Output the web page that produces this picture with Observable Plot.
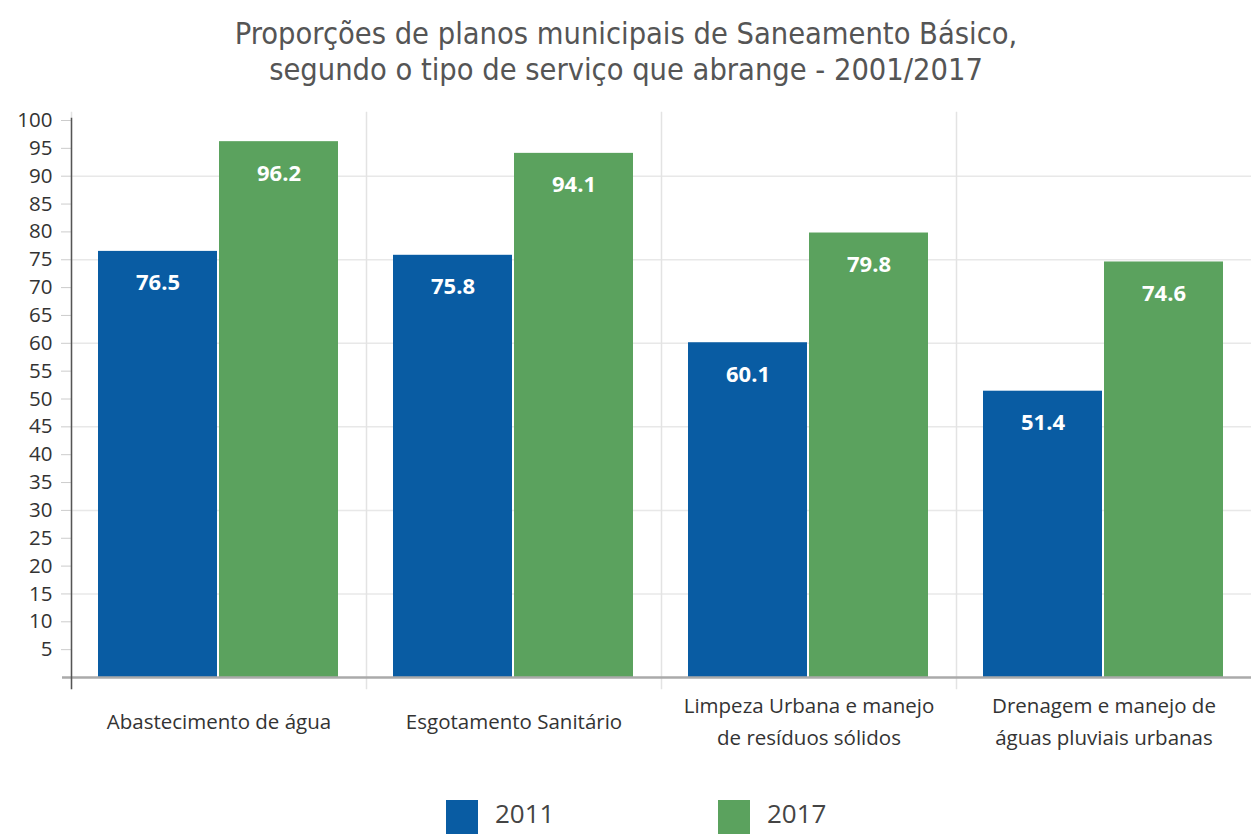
<!DOCTYPE html>
<html>
<head>
<meta charset="utf-8">
<script src="https://cdn.jsdelivr.net/npm/d3@7"></script>
<script src="https://cdn.jsdelivr.net/npm/@observablehq/plot@0.6"></script>
<style>
  body { margin: 0; background: #fff; font-family: "Open Sans", sans-serif; }
  #title { height: 95px; box-sizing: border-box; padding-top: 16px; text-align: center; color: #555; font-family: "DejaVu Sans Condensed", "DejaVu Sans", sans-serif; font-stretch: condensed; font-size: 30.5px; }
  #title div { height: 35.5px; line-height: 35.5px; white-space: nowrap; }
  #legend { height: 44px; position: relative; }
  .item { position: absolute; top: 10px; display: flex; align-items: flex-start; font-size: 26px; color: #444; }
  .sw { width: 32px; height: 36px; margin-right: 17px; }
  .item span { line-height: 30px; margin-top: -2px; }
</style>
</head>
<body>
<div id="title"><div>Proporções de planos municipais de Saneamento Básico,</div><div>segundo o tipo de serviço que abrange - 2001/2017</div></div>
<div id="chart"></div>
<div id="legend"></div>
<script>
const categories = ["Abastecimento de água", "Esgotamento Sanitário", "Limpeza Urbana e manejo de resíduos sólidos", "Drenagem e manejo de águas pluviais urbanas"];
const categoryLabels = ["Abastecimento de água", "Esgotamento Sanitário", "Limpeza Urbana e manejo\nde resíduos sólidos", "Drenagem e manejo de\náguas pluviais urbanas"];
const years = ["2011", "2017"];
const values2011 = [76.5, 75.8, 60.1, 51.4];
const values2017 = [96.2, 94.1, 79.8, 74.6];
const yTicks = [5, 10, 15, 20, 25, 30, 35, 40, 45, 50, 55, 60, 65, 70, 75, 80, 85, 90, 95, 100];
const gridValues = [15, 30, 45, 60, 75, 90];
const colors = ["#095ca3", "#5ba25e"];

const data = [];
categories.forEach((c, i) => {
  data.push({category: c, year: years[0], value: values2011[i]});
  data.push({category: c, year: years[1], value: values2017[i]});
});
const labelData = categories.map((c, i) => ({category: c, label: categoryLabels[i]}));

const chart = Plot.plot({
  width: 1252,
  height: 695,
  marginTop: 25,
  marginBottom: 113,
  marginLeft: 69,
  marginRight: 0,
  style: {fontFamily: "Open Sans, sans-serif", background: "#fff"},
  fx: {domain: categories, padding: 0, axis: null},
  x: {domain: years, paddingInner: 0.0165, paddingOuter: 0.2253, axis: null},
  y: {domain: [0, 100], axis: null},
  color: {domain: years, range: colors},
  marks: [
    Plot.ruleY(gridValues, {stroke: "#e8e8e8", strokeWidth: 1.5}),
    Plot.frame({anchor: "left", stroke: "#e3e3e3", strokeWidth: 1.5, insetTop: -8, insetBottom: -11}),
    Plot.barY(data, {fx: "category", x: "year", y: "value", fill: "year"}),
    Plot.text(data, {fx: "category", x: "year", y: "value", text: d => d.value.toFixed(1), dy: 32, fill: "#fff", fontWeight: "bold", fontSize: 22}),
    Plot.ruleY([0], {stroke: "#aaa", strokeWidth: 2.5}),
    Plot.axisY(yTicks, {tickSize: 10, tickFormat: () => "", stroke: "#ccc", label: null}),
    Plot.axisY([0], {tickSize: 9, tickFormat: () => "", stroke: "#aaa", strokeWidth: 2.5, label: null}),
    Plot.axisY(yTicks, {tickSize: 0, tickPadding: 19, fill: "#333", fontSize: 20.5, label: null}),
    Plot.frame({anchor: "left", facet: "super", stroke: "#555", strokeWidth: 1.5, insetTop: -2, insetBottom: -11}),
    Plot.text(labelData, {fx: "category", text: "label", frameAnchor: "bottom", dy: 41, lineAnchor: "middle", lineHeight: 1.55, fill: "#333", fontSize: 20.5})
  ]
});
document.getElementById("chart").appendChild(chart);

const legend = document.getElementById("legend");
const lx = [446, 718];
years.forEach((y, i) => {
  const it = document.createElement("div");
  it.className = "item";
  it.style.left = lx[i] + "px";
  it.innerHTML = `<div class="sw" style="background:${colors[i]}"></div><span>${y}</span>`;
  legend.appendChild(it);
});
</script>
</body>
</html>
